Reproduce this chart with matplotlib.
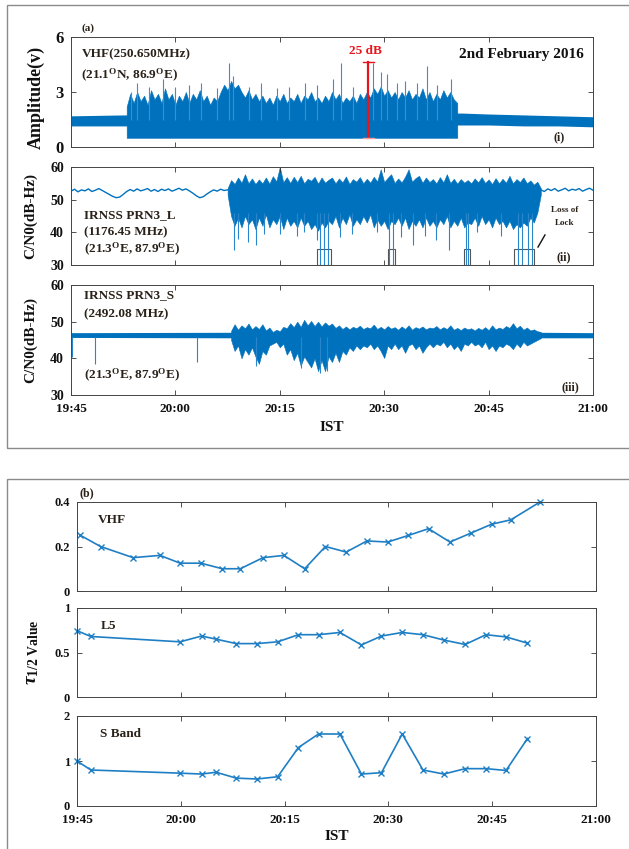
import numpy as np
import matplotlib.pyplot as plt
from matplotlib.patches import Rectangle

plt.rcParams['font.family'] = ['Liberation Serif', 'DejaVu Serif']
plt.rcParams['font.weight'] = 'bold'
plt.rcParams['axes.labelweight'] = 'bold'
plt.rcParams['mathtext.fontset'] = 'custom'
plt.rcParams['mathtext.rm'] = 'Liberation Serif:bold'
plt.rcParams['mathtext.it'] = 'Liberation Serif:italic:bold'
plt.rcParams['mathtext.bf'] = 'Liberation Serif:bold'

BLUE = '#0072BD'
TXT = '#2a2118'

# time axis: minutes after 19:45 IST
tick_min = [0, 15, 30, 45, 60, 75]
tick_lbl = ['19:45', '20:00', '20:15', '20:30', '20:45', '21:00']

# ---- (a)(i) VHF amplitude
# quiet band (before / after the scintillation patch)
vhf_q_t = [0, 7.6, 8.4, 55.4, 56.2, 60, 65, 70, 75]
vhf_q_lo = [1.15, 1.15, 1.15, 1.2, 1.2, 1.2, 1.15, 1.15, 1.1]
vhf_q_hi = [1.7, 1.75, 1.75, 1.85, 1.85, 1.8, 1.75, 1.7, 1.65]
# active patch 20:53-20:40: ragged upper edge every 0.5 min from t=8.0, floor at 0.5 V
vhf_a_t0 = 8.0
vhf_a_hi = [2.2, 2.9, 2.4, 3.0, 2.5, 2.8, 2.3, 3.1, 2.6,
            2.9, 2.4, 3.2, 2.6, 2.9, 2.3, 2.8, 2.5,
            3.0, 2.4, 2.9, 2.6, 3.1, 2.5, 2.8, 2.3,
            2.7, 2.5, 3.0, 3.4, 3.1, 3.6, 3.2, 3.4,
            3.0, 2.7, 3.1, 2.6, 2.9, 2.5, 2.8, 2.4,
            2.7, 2.3, 2.8, 2.5, 2.9, 2.4, 2.7, 2.5,
            2.9, 2.4, 2.8, 2.6, 3.0, 2.5, 2.7, 2.4,
            2.8, 2.5, 3.0, 2.6, 2.9, 2.4, 2.7, 2.5,
            2.8, 2.4, 2.9, 2.6, 3.0, 2.7, 3.2, 2.9,
            3.3, 2.8, 3.1, 2.7, 3.0, 2.6, 3.0, 2.7,
            3.1, 2.6, 2.9, 2.7, 3.2, 2.6, 3.0, 2.5,
            2.9, 2.6, 3.1, 2.7, 3.0, 2.6, 2.4]
vhf_a_lo = 0.5
vhf_spk_t = [8.6, 9.5, 11.2, 13.2, 14.9, 17.0, 18.7, 21.0, 22.7, 23.3, 25.6, 27.3, 29.6, 31.3,
             33.6, 35.3, 37.6, 38.8, 40.5, 43.4, 44.5, 45.4, 46.8, 48.0, 49.7, 51.1, 52.6, 54.6]
vhf_spk_v = [3.0, 3.5, 3.3, 3.7, 3.3, 3.4, 3.5, 3.2, 4.6, 3.9, 3.3, 3.5, 3.2, 3.3,
             3.5, 3.4, 3.7, 4.6, 3.3, 4.6, 4.1, 4.0, 3.5, 3.6, 3.5, 4.4, 3.4, 3.7]
bar_t, bar_lo, bar_hi = 42.7, 0.5, 4.65

# ---- (a)(ii) IRNSS L5 C/N0
l5_q1 = [52.6, 53.2, 52.4, 53.0, 52.7, 53.3, 52.5, 52.9, 53.4, 52.8, 52.2, 51.6, 51.0, 50.6, 50.8, 51.6,
         52.5, 53.1, 52.6, 53.3, 52.7, 53.0, 53.4, 52.6, 53.1, 52.5, 53.2, 52.8, 53.3, 52.6, 53.0, 53.5,
         52.9, 53.3, 52.7, 52.0, 51.2, 50.6, 50.9, 51.7, 52.4, 53.0, 52.6, 53.2, 52.8, 53.0]
l5_q2 = [53.0, 52.5, 53.3, 52.8, 53.4, 52.6, 53.0, 53.5, 52.7, 53.2, 52.9, 53.4, 52.6, 53.1, 53.5, 52.9]
l5_a_t0 = 22.5
l5_a_hi = [53.5, 56.0, 54.8, 56.8, 55.2, 57.8, 55.0, 56.5, 54.8, 56.2,
           55.0, 56.8, 54.9, 57.2, 55.6, 60.0, 55.3, 56.9, 55.1, 57.0,
           55.4, 57.3, 55.0, 56.4, 55.8, 57.0, 54.9, 56.8, 55.2, 56.1,
           56.8, 55.0, 56.5, 55.3, 57.1, 54.8, 56.3, 55.5, 56.9, 55.0,
           56.4, 55.2, 57.0, 55.6, 59.3, 55.4, 56.7, 57.8, 55.1, 56.5,
           55.3, 57.0, 59.3, 55.5, 56.6, 57.3, 55.2, 56.8, 55.4, 56.3,
           55.0, 56.9, 55.3, 57.8, 55.1, 56.4, 54.9, 56.3, 55.2, 56.0,
           55.0, 56.5, 55.3, 56.9, 55.1, 56.2, 54.8, 56.6, 55.0, 56.4,
           55.2, 57.3, 55.0, 56.3, 55.4, 56.8, 55.0, 55.9, 54.6, 55.5,
           53.5]
l5_a_lo = [51.5, 45.0, 42.0, 44.5, 41.5, 45.0, 42.5, 44.0, 41.0, 44.5,
           42.0, 45.5, 41.5, 44.0, 42.5, 45.0, 41.0, 44.5, 42.0, 43.5,
           41.5, 44.5, 42.0, 43.5, 41.0, 42.5, 40.5, 43.0, 41.5, 43.5,
           42.5, 45.0, 41.5, 44.5, 42.5, 45.5, 42.0, 44.0, 42.5, 45.0,
           43.0, 45.5, 41.5, 44.0, 42.0, 43.5, 41.0, 43.5, 42.5, 44.5,
           42.0, 44.5, 41.0, 43.5, 42.0, 44.0, 41.5, 44.5, 42.0, 43.5,
           41.5, 44.0, 42.5, 45.0, 41.5, 43.5, 42.0, 44.5, 41.5, 43.0,
           42.5, 44.5, 42.0, 45.0, 42.5, 44.0, 41.5, 44.5, 42.5, 43.5,
           41.5, 43.5, 41.0, 42.5, 41.5, 43.0, 42.0, 44.5, 43.0, 46.0,
           51.5]
l5_dn_t = [23.4, 24.0, 25.5, 26.6, 27.8, 30.1, 32.4, 33.5, 35.3, 35.8, 36.3, 36.9, 38.7, 40.4,
           43.9, 45.7, 46.2, 47.4, 49.1, 50.8, 52.5, 54.3, 56.7, 57.0, 58.3, 61.8, 64.2, 64.8, 65.6, 66.2]
l5_dn_v = [34.5, 38, 37, 36, 39.6, 39.6, 39, 40, 37.6, 30, 30, 30, 38.6, 39.6,
           40, 30, 30, 38.6, 36, 39, 37.6, 34.5, 30, 30, 40, 39, 30, 30, 30, 30]
lol_boxes = [(35.4, 37.4), (45.5, 46.5), (56.4, 57.3), (63.7, 66.5)]

# ---- (a)(iii) IRNSS S C/N0
s_q_t = [0, 23.2, 67.3, 75]
s_q_lo = [45.7, 45.6, 45.6, 45.6]
s_q_hi = [47.0, 47.1, 47.1, 47.0]
s_a_t0 = 23.0
s_a_hi = [47.5, 49.3, 47.8, 49.0, 48.2, 49.5, 47.9, 48.8, 48.0, 49.3,
          47.6, 48.4, 47.2, 47.8, 47.4, 48.6, 48.2, 49.6, 48.5, 50.0,
          48.6, 50.5, 49.0, 50.2, 48.8, 50.0, 48.7, 49.8, 48.9, 49.5,
          48.3, 49.0, 48.0, 48.7, 47.9, 48.6, 48.2, 48.9, 48.0, 48.5,
          48.2, 49.2, 48.0, 48.6, 47.9, 48.8, 48.1, 48.5, 47.8, 48.7,
          48.0, 49.0, 47.8, 48.5, 48.1, 48.7, 47.9, 48.4, 48.2, 48.8,
          47.9, 48.5, 48.0, 49.0, 47.8, 48.3, 47.7, 48.4, 47.9, 48.2,
          47.6, 48.3, 47.8, 48.5, 47.7, 49.0, 47.9, 48.4, 48.0, 48.8,
          48.3, 49.6, 48.2, 48.9, 47.8, 48.4, 47.6, 47.9, 47.4, 47.2]
s_a_lo = [45.0, 42.0, 43.5, 40.0, 42.5, 41.0, 43.0, 40.5, 38.5, 42.0,
          41.0, 43.5, 44.0, 44.5, 43.0, 44.0, 41.0, 42.5, 39.5, 41.5,
          38.0, 40.5, 39.0, 37.5, 40.0, 36.5, 39.5, 36.5, 40.5, 39.0,
          41.5, 39.0, 42.0, 41.0, 43.0, 42.0, 43.5, 42.5, 43.5, 43.0,
          44.0, 42.5, 43.5, 42.0, 40.1, 43.5, 42.5, 44.0, 42.5, 43.5,
          41.5, 43.5, 44.0, 42.5, 43.5, 41.5, 43.0, 44.0, 43.0, 44.0,
          43.5, 44.5, 43.0, 44.0, 42.5, 43.5, 42.0, 44.0, 43.5, 44.5,
          43.5, 44.0, 43.0, 44.5, 42.5, 43.5, 42.0, 43.5, 43.0, 44.0,
          43.5, 42.5, 44.0, 43.0, 44.5, 43.5, 44.0, 44.5, 45.0, 45.5]
s_dn_t = [0.2, 3.4, 18.1, 26.6, 33.0, 35.8, 36.8]
s_dn_v = [40.5, 38.4, 39.0, 38.0, 37.5, 36.0, 36.5]

# ---- (b) tau 1/2 values
vhf_tau_t = [0.5, 3.4, 8.1, 12.0, 14.9, 17.9, 21.0, 23.6, 26.9, 29.9, 32.9, 35.9, 38.9, 41.9, 44.9, 47.9, 50.8, 53.9, 56.9, 59.9, 62.7, 66.9]
vhf_tau = [0.25, 0.2, 0.15, 0.16, 0.125, 0.125, 0.1, 0.1, 0.15, 0.16, 0.1, 0.2, 0.175, 0.225, 0.22, 0.25, 0.28, 0.22, 0.26, 0.3, 0.32, 0.4]
gn_t = [0, 2.0, 14.9, 18.0, 20.1, 23.0, 26.0, 29.0, 32.0, 34.9, 38.0, 41.1, 44.0, 47.0, 50.0, 53.0, 56.1, 59.1, 62.0, 65.1]
l5_tau = [0.745, 0.68, 0.62, 0.685, 0.65, 0.6, 0.6, 0.62, 0.7, 0.7, 0.725, 0.585, 0.685, 0.725, 0.7, 0.64, 0.59, 0.7, 0.675, 0.605]
s_tau = [1.0, 0.8, 0.73, 0.71, 0.75, 0.62, 0.6, 0.65, 1.3, 1.6, 1.6, 0.71, 0.74, 1.6, 0.8, 0.71, 0.83, 0.83, 0.79, 1.5]

W, H = 629, 849
fig = plt.figure(figsize=(W / 100, H / 100), dpi=100)


def px(x0, y0, x1, y1):
    return [x0 / W, 1 - y1 / H, (x1 - x0) / W, (y1 - y0) / H]


def half_min(t0, vals):
    return t0 + 0.5 * np.arange(len(vals))


def style(ax, yticks, ylabels, ylim, ysize=9, xlabels=False):
    ax.set_xlim(0, 75)
    ax.set_ylim(*ylim)
    ax.set_xticks(tick_min)
    ax.set_xticklabels(tick_lbl if xlabels else [])
    ax.set_yticks(yticks)
    ax.set_yticklabels(ylabels)
    ax.tick_params(direction='in', top=True, right=True, length=3.5, width=0.6,
                   colors='#333333', labelcolor='#111111', pad=5)
    ax.tick_params(axis='y', labelsize=ysize)
    ax.tick_params(axis='x', labelsize=9.5, pad=6)
    for s in ax.spines.values():
        s.set_linewidth(0.7)
        s.set_color('#444444')


# outer frames
fig.add_artist(Rectangle((7 / W, 1 - 448 / H), 1, 443 / H, fill=False, ec='#8a8a8a', lw=1.0,
                         transform=fig.transFigure, clip_on=False))
fig.add_artist(Rectangle((7 / W, -0.1), 1, 0.1 + 1 - 479 / H, fill=False, ec='#8a8a8a', lw=1.0,
                         transform=fig.transFigure, clip_on=False))

# (i)
ax1 = fig.add_axes(px(71, 37, 593, 147))
ax1.fill_between(vhf_q_t, vhf_q_lo, vhf_q_hi, color=BLUE, lw=0)
ax1.fill_between(half_min(vhf_a_t0, vhf_a_hi), vhf_a_lo, vhf_a_hi, color=BLUE, lw=0.4, ec=BLUE)
ax1.vlines(vhf_spk_t, 1.5, vhf_spk_v, color='#3a8fd0', lw=0.8)
ax1.plot([bar_t, bar_t], [bar_lo, bar_hi], color='#e8141b', lw=1.6)
ax1.plot([bar_t - 0.8, bar_t + 0.8], [bar_hi, bar_hi], color='#e8141b', lw=1.0)
ax1.plot([bar_t - 0.8, bar_t + 0.8], [bar_lo, bar_lo], color='#f4a0a0', lw=1.0)
ax1.text(bar_t - 0.4, bar_hi + 0.25, '25 dB', color='#e8141b', fontsize=9.5, ha='center', va='bottom')
style(ax1, [0, 3, 6], ['0', '3', '6'], (0, 6), ysize=12)
ax1.set_ylabel('Amplitude(v)', fontsize=13, color='#111111')
ax1.yaxis.set_label_coords(-0.05, 0.45)
ax1.text(0.02, 0.84, 'VHF(250.650MHz)', transform=ax1.transAxes, fontsize=9.5, color=TXT, va='center')
ax1.text(0.02, 0.65, r'(21.1$^{\mathrm{O}}$N, 86.9$^{\mathrm{O}}$E)', transform=ax1.transAxes,
         fontsize=9.5, color=TXT, va='center')
ax1.text(0.983, 0.84, '2nd February 2016', transform=ax1.transAxes, fontsize=11, color='#111111',
         ha='right', va='center')
ax1.text(0.925, 0.09, '(i)', transform=ax1.transAxes, fontsize=8.5, color=TXT, va='center')
ax1.text(0.02, 1.04, '(a)', transform=ax1.transAxes, fontsize=8, color=TXT, va='bottom')

# (ii)
ax2 = fig.add_axes(px(71, 167, 593, 265))
ax2.plot(half_min(0, l5_q1), l5_q1, color=BLUE, lw=1.0)
ax2.plot(half_min(67.5, l5_q2), l5_q2, color=BLUE, lw=1.0)
ax2.fill_between(half_min(l5_a_t0, l5_a_hi), l5_a_lo, l5_a_hi, color=BLUE, lw=0.4, ec=BLUE)
ax2.vlines(l5_dn_t, l5_dn_v, 46, color='#2a86cc', lw=0.8)
for a, b in lol_boxes:
    ax2.add_patch(Rectangle((a, 30), b - a, 5, fill=False, ec='#555555', lw=0.8))
ax2.plot([68.1, 67.1], [39.2, 35.5], color='#111111', lw=1.0)
ax2.text(0.946, 0.56, 'Loss of', transform=ax2.transAxes, fontsize=6.5, color=TXT, ha='center', va='center')
ax2.text(0.946, 0.43, 'Lock', transform=ax2.transAxes, fontsize=6.5, color=TXT, ha='center', va='center')
style(ax2, [30, 40, 50, 60], ['30', '40', '50', '60'], (30, 60), ysize=10)
ax2.set_ylabel('C/N0(dB-Hz)', fontsize=11, color='#111111')
ax2.yaxis.set_label_coords(-0.065, 0.5)
ax2.text(0.025, 0.51, 'IRNSS PRN3_L', transform=ax2.transAxes, fontsize=9.5, color=TXT, va='center')
ax2.text(0.025, 0.33, '(1176.45 MHz)', transform=ax2.transAxes, fontsize=9.5, color=TXT, va='center')
ax2.text(0.025, 0.16, r'(21.3$^{\mathrm{O}}$E, 87.9$^{\mathrm{O}}$E)', transform=ax2.transAxes,
         fontsize=9.5, color=TXT, va='center')
ax2.text(0.93, 0.08, '(ii)', transform=ax2.transAxes, fontsize=8.5, color=TXT, va='center')

# (iii)
ax3 = fig.add_axes(px(71, 285, 593, 395))
ax3.fill_between(s_q_t, s_q_lo, s_q_hi, color=BLUE, lw=0)
ax3.fill_between(half_min(s_a_t0, s_a_hi), s_a_lo, s_a_hi, color=BLUE, lw=0.4, ec=BLUE)
ax3.vlines(s_dn_t, s_dn_v, 45.7, color='#2a86cc', lw=0.8)
style(ax3, [30, 40, 50, 60], ['30', '40', '50', '60'], (30, 60), ysize=10, xlabels=True)
ax3.set_ylabel('C/N0(dB-Hz)', fontsize=11, color='#111111')
ax3.yaxis.set_label_coords(-0.065, 0.5)
ax3.set_xlabel('IST', fontsize=11, color='#111111', labelpad=4)
ax3.text(0.025, 0.91, 'IRNSS PRN3_S', transform=ax3.transAxes, fontsize=9.5, color=TXT, va='center')
ax3.text(0.025, 0.73, '(2492.08 MHz)', transform=ax3.transAxes, fontsize=9.5, color=TXT, va='center')
ax3.text(0.025, 0.18, r'(21.3$^{\mathrm{O}}$E, 87.9$^{\mathrm{O}}$E)', transform=ax3.transAxes,
         fontsize=9.5, color=TXT, va='center')
ax3.text(0.94, 0.07, '(iii)', transform=ax3.transAxes, fontsize=8.5, color=TXT, va='center')

# (b) tau panels
bl, br = 77, 596
b1 = fig.add_axes(px(bl, 502, br, 591))
b1.plot(vhf_tau_t, vhf_tau, color='#1f7fc4', lw=1.2, marker='x', ms=4.5, mew=1.0, clip_on=False)
style(b1, [0, 0.2, 0.4], ['0', '0.2', '0.4'], (0, 0.4))
b1.text(0.04, 0.8, 'VHF', transform=b1.transAxes, fontsize=9.5, color=TXT, va='center')
b1.text(0.005, 1.03, '(b)', transform=b1.transAxes, fontsize=8.5, color=TXT, va='bottom')

b2 = fig.add_axes(px(bl, 608, br, 697))
b2.plot(gn_t, l5_tau, color='#1f7fc4', lw=1.2, marker='x', ms=4.5, mew=1.0, clip_on=False)
style(b2, [0, 0.5, 1], ['0', '0.5', '1'], (0, 1))
b2.text(0.045, 0.8, 'L5', transform=b2.transAxes, fontsize=9.5, color=TXT, va='center')
b2.set_ylabel(r'$\tau_{\mathrm{1/2\ Value}}$', fontsize=14, color='#111111')
b2.yaxis.set_label_coords(-0.07, 0.5)

b3 = fig.add_axes(px(bl, 716, br, 806))
b3.plot(gn_t, s_tau, color='#1f7fc4', lw=1.2, marker='x', ms=4.5, mew=1.0, clip_on=False)
style(b3, [0, 1, 2], ['0', '1', '2'], (0, 2), xlabels=True)
b3.text(0.045, 0.8, 'S Band', transform=b3.transAxes, fontsize=9.5, color=TXT, va='center')
b3.set_xlabel('IST', fontsize=11, color='#111111', labelpad=3)

fig.savefig('out.png', dpi=100)
